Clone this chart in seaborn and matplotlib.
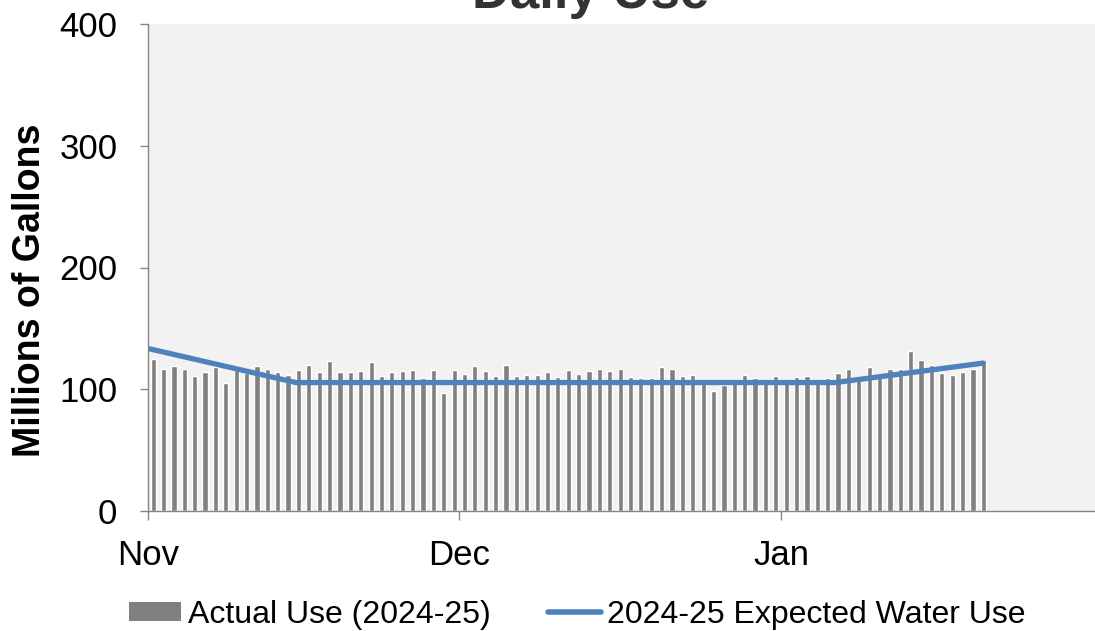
import pandas as pd
import numpy as np
import matplotlib.pyplot as plt
from matplotlib.patches import Patch
from matplotlib.lines import Line2D
import seaborn as sns

# Daily actual use, Nov 1 2024 - Jan 20 2025 (millions of gallons)
nov_use = [125, 117, 119, 117, 111, 114, 118, 105, 116, 113,
           119, 117, 114, 112, 116, 120, 114, 123, 114, 114,
           115, 122, 111, 114, 115, 116, 109, 116, 97, 116]
dec_use = [112.5, 119, 115, 111, 120, 110.5, 111.5, 112, 114.5, 110,
           115.5, 112.5, 115, 116.5, 115, 116.5, 110, 109, 109, 118,
           116.5, 111, 112, 105, 98.5, 103.5, 105, 111.5, 109, 105, 111]
jan_use = [105, 110, 110.5, 105, 109, 113, 117, 108, 118, 110,
           116.5, 116.5, 131.5, 124, 120, 113.5, 111.5, 114, 116.5, 121.5]
actual_use = nov_use + dec_use + jan_use

# Expected use, piecewise linear
expected_dates = ["2024-11-01 00:00", "2024-11-15 06:00",
                  "2025-01-06 06:00", "2025-01-20 12:00"]
expected_use = [133.5, 105.5, 105.5, 121.5]

month_ticks = ["2024-11-01", "2024-12-01", "2025-01-01"]
month_labels = ["Nov", "Dec", "Jan"]

start = pd.Timestamp("2024-11-01")
dates = pd.date_range(start, periods=len(actual_use), freq="D")
day_pos = (dates - start).days + 0.5
exp_pos = (pd.to_datetime(expected_dates) - start) / pd.Timedelta(days=1)
tick_pos = (pd.to_datetime(month_ticks) - start).days

sns.set_theme(style="white")
plt.rcParams['font.family'] = ['Liberation Sans', 'DejaVu Sans']
plt.rcParams['text.color'] = 'black'
plt.rcParams['xtick.color'] = 'black'
plt.rcParams['ytick.color'] = 'black'

fig = plt.figure(figsize=(10.95, 6.31), dpi=100)
ax = fig.add_axes([148 / 1095, 120 / 631, 947 / 1095, 487 / 631])
ax.set_facecolor("#F2F2F2")

sns.barplot(x=day_pos, y=actual_use, native_scale=True, color="#808080",
            saturation=1, width=0.5, errorbar=None, ax=ax)
sns.lineplot(x=exp_pos, y=expected_use, color="#4F81BD", linewidth=3.8,
             solid_capstyle="round", ax=ax)

ax.set_xlim(0, 91.26)
ax.set_ylim(0, 400)
ax.set_yticks([0, 100, 200, 300, 400])
ax.set_xticks(tick_pos)
ax.set_xticklabels(month_labels)

for side in ["top", "right"]:
    ax.spines[side].set_visible(False)
for side in ["left", "bottom"]:
    ax.spines[side].set_color("#868686")
    ax.spines[side].set_linewidth(1)

ax.tick_params(axis="y", direction="out", length=6, width=1, color="#868686",
               labelcolor="black", labelsize=25, pad=16, left=True)
ax.tick_params(axis="x", direction="out", length=6.5, width=1, color="#868686",
               labelcolor="black", labelsize=25, pad=14, bottom=True)

ax.set_xlabel("")
ax.set_ylabel("")
fig.text(30 / 1095, 1 - 290 / 631, "Millions of Gallons", fontsize=27,
         fontweight="bold", rotation=90, ha="center", va="center")

fig.text(591 / 1095, 0.988, "Daily Use", fontsize=38, fontweight="bold",
         ha="center", va="baseline", color="#333333")

handles = [Patch(facecolor="#808080", edgecolor="none"),
           Line2D([0], [0], color="#4F81BD", linewidth=4, solid_capstyle="round")]
labels = ["Actual Use (2024-25)", "2024-25 Expected Water Use"]
fig.legend(handles, labels, loc="center", bbox_to_anchor=(577 / 1095, 0.026),
           ncol=2, frameon=False, fontsize=23, handlelength=1.65,
           handleheight=0.55, handletextpad=0.2, columnspacing=1.8,
           borderaxespad=0, borderpad=0)

fig.savefig("out.png", dpi=100)
plt.close(fig)
